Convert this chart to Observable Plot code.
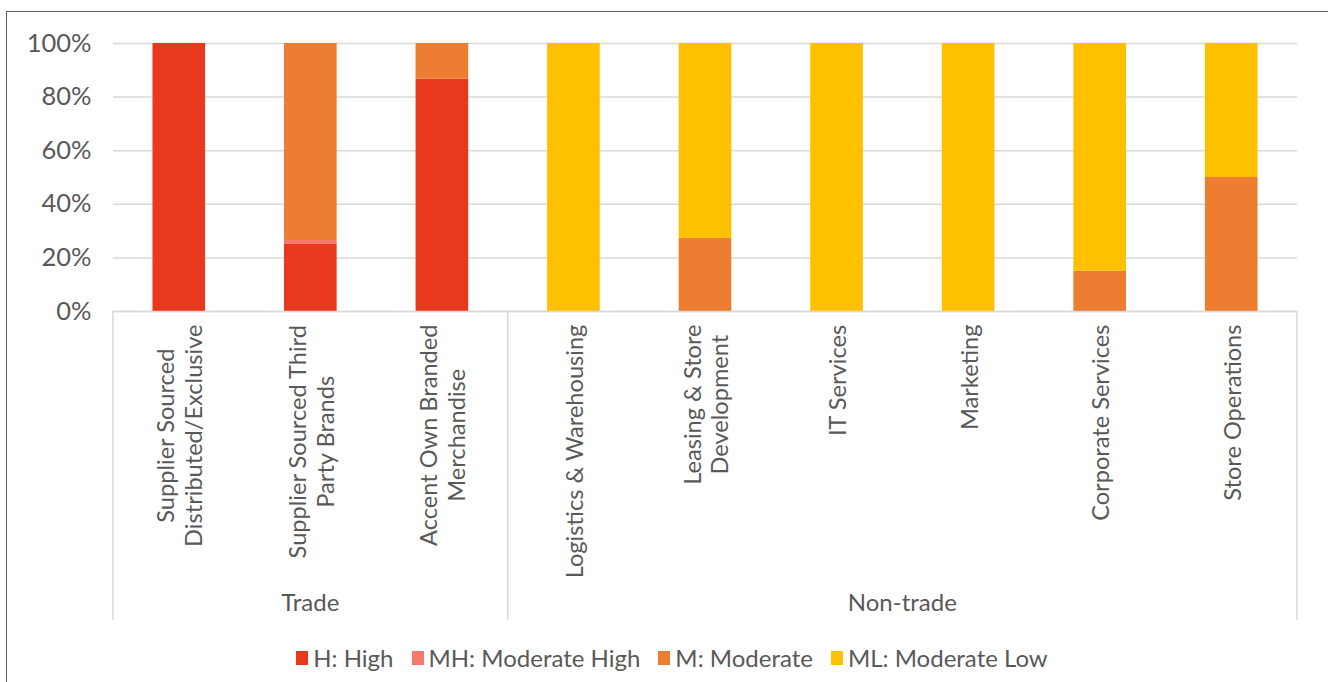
<!DOCTYPE html>
<html><head><meta charset="utf-8">
<script src="https://cdn.jsdelivr.net/npm/d3@7"></script>
<script src="https://cdn.jsdelivr.net/npm/@observablehq/plot@0.6"></script>
<style>
body{margin:0;background:#fff;font-family:Lato,sans-serif;}
#wrap{position:relative;width:1328px;height:682px;overflow:hidden;}
#border{position:absolute;left:6px;top:11px;width:1400px;height:800px;border-left:1.5px solid #5f5f5f;border-top:1.5px solid #5f5f5f;box-sizing:border-box;}
#chart{position:absolute;left:0;top:0;}
#legend{position:absolute;left:0;width:1328px;top:643px;display:flex;justify-content:center;padding-left:16px;box-sizing:border-box;font-size:24px;color:#595959;font-family:Lato,sans-serif;}
.item{display:flex;align-items:center;margin:0 9px;}
.sw{width:12px;height:14px;margin-right:5px;}
</style></head>
<body><div id="wrap"><div id="border"></div><div id="chart"></div><div id="legend"></div></div>
<script>
// ---- data ----
const categories = ["Supplier Sourced Distributed/Exclusive","Supplier Sourced Third Party Brands","Accent Own Branded Merchandise","Logistics & Warehousing","Leasing & Store Development","IT Services","Marketing","Corporate Services","Store Operations"];
const categoryLabels = ["Supplier Sourced\nDistributed/Exclusive","Supplier Sourced Third\nParty Brands","Accent Own Branded\nMerchandise","Logistics & Warehousing","Leasing & Store\nDevelopment","IT Services","Marketing","Corporate Services","Store Operations"];
const groups = ["Trade","Trade","Trade","Non-trade","Non-trade","Non-trade","Non-trade","Non-trade","Non-trade"];
const seriesNames = ["H: High","MH: Moderate High","M: Moderate","ML: Moderate Low"];
const seriesColors = ["#E8381E","#F47B6A","#ED7D31","#FFC000"];
const high =         [100, 25,  86.7, 0,   0,    0,   0,   0,  0];
const moderateHigh = [0,   1.5, 0,    0,   0,    0,   0,   0,  0];
const moderate =     [0,   73.5,13.3, 0,   27.3, 0,   0,   15, 50];
const moderateLow =  [0,   0,   0,    100, 72.7, 100, 100, 85, 50];
const yTicks = [0, 0.2, 0.4, 0.6, 0.8, 1];

const seriesValues = [high, moderateHigh, moderate, moderateLow];
const rows = [];
seriesNames.forEach((s, si) => categories.forEach((c, ci) => rows.push({category: c, series: s, value: seriesValues[si][ci] / 100})));

const LABEL_SIZE = 23.6;
const ctx = document.createElement("canvas").getContext("2d");
ctx.font = LABEL_SIZE + "px Lato";
const halfLen = categoryLabels.map(l => Math.max(...l.split("\n").map(t => ctx.measureText(t).width)) / 2);

const labelMarks = categories.map((c, i) => Plot.text([c], {
  x: d => d, text: () => categoryLabels[i], frameAnchor: "bottom", rotate: -90,
  textAnchor: "middle", lineAnchor: "middle", lineHeight: 1.18, dy: 13 + halfLen[i],
  fill: "#595959", fontSize: LABEL_SIZE
}));

const plot = Plot.plot({
  width: 1328, height: 632,
  marginTop: 43, marginBottom: 321, marginLeft: 113, marginRight: 31,
  style: {fontFamily: "Lato, sans-serif", fontSize: "24px", color: "#595959", background: "transparent"},
  x: {domain: categories, paddingInner: 0.6, paddingOuter: 0.3, round: false, axis: null},
  y: {domain: [0, 1], axis: null, label: null},
  color: {domain: seriesNames, range: seriesColors},
  marks: [
    Plot.gridY(yTicks, {stroke: "#d9d9d9", strokeOpacity: 1, strokeWidth: 1.5}),
    Plot.axisY(yTicks, {tickSize: 0, tickPadding: 22, tickFormat: d3.format(".0%"), fontSize: 25.5, fill: "#595959", label: null}),
    Plot.barY(rows, {x: "category", y: "value", fill: "series"}),
    Plot.ruleY([0], {stroke: "#d9d9d9", strokeWidth: 1.5}),
    ...labelMarks
  ]
});

// group dividers & group labels using the plot's x scale
const xs = plot.scale("x");
const svg = d3.select(plot);
const gap = xs.step - xs.bandwidth;
const y0 = 311, y1 = 620;
const groupNames = [...new Set(groups)];
const bounds = [];
groupNames.forEach(g => {
  const cats = categories.filter((c, i) => groups[i] === g);
  const left = xs.apply(cats[0]) - gap / 2;
  const right = xs.apply(cats[cats.length - 1]) + xs.bandwidth + gap / 2;
  bounds.push(left, right);
  svg.append("text").attr("x", (left + right) / 2).attr("y", 605).attr("text-anchor", "middle")
    .attr("dominant-baseline", "middle").attr("fill", "#595959").style("font-size", "24px").text(g);
});
[...new Set(bounds.map(b => Math.round(b * 10) / 10))].forEach(b => {
  svg.append("line").attr("x1", b).attr("x2", b).attr("y1", y0).attr("y2", y1)
    .attr("stroke", "#d9d9d9").attr("stroke-width", 1.5);
});

document.getElementById("chart").appendChild(plot);

const legend = d3.select("#legend");
seriesNames.forEach((s, i) => {
  const it = legend.append("div").attr("class", "item");
  it.append("div").attr("class", "sw").style("background", seriesColors[i]);
  it.append("span").text(s);
});
</script></body></html>
